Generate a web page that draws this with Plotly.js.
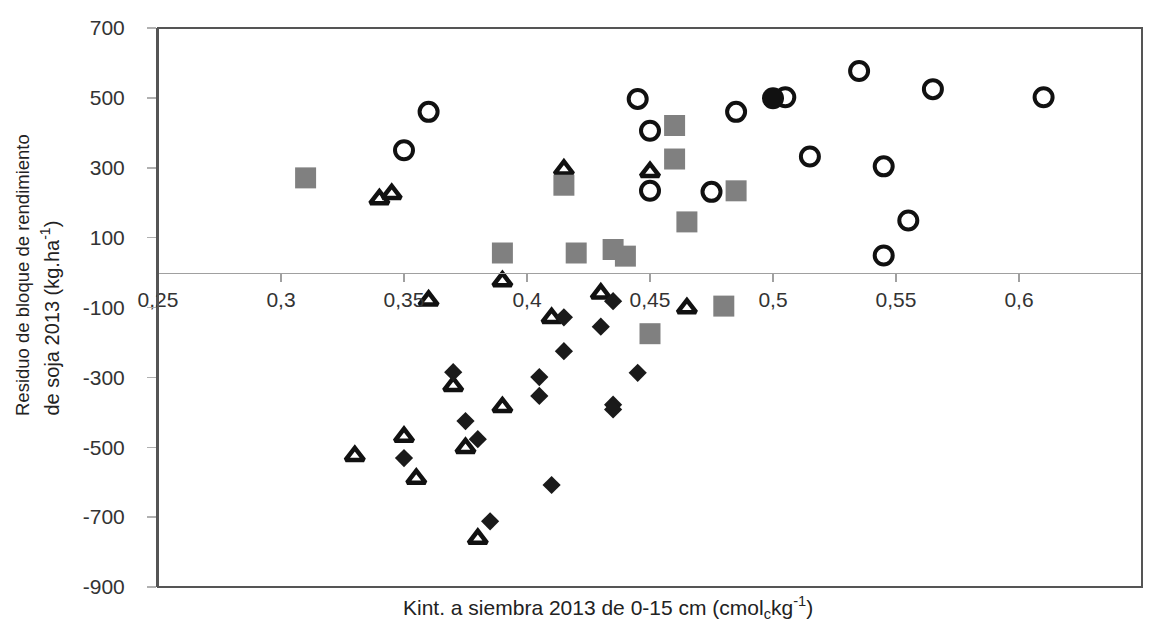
<!DOCTYPE html>
<html>
<head>
<meta charset="utf-8">
<script src="https://cdn.plot.ly/plotly-3.0.1.min.js"></script>
<style>html,body{margin:0;padding:0;background:#fff;}#chart{width:1160px;height:623px;}</style>
</head>
<body>
<div id="chart"></div>
<script>
// Open circles
const circX = [0.35, 0.36, 0.445, 0.45, 0.45, 0.475, 0.485, 0.505, 0.515, 0.535, 0.545, 0.545, 0.555, 0.565, 0.61];
const circY = [350, 460, 497, 406, 234, 231, 460, 502, 332, 577, 304, 49, 149, 525, 502];
// Filled circle
const dotX = [0.5];
const dotY = [499];
// Open triangles
const triX = [0.33, 0.34, 0.345, 0.35, 0.355, 0.36, 0.37, 0.375, 0.38, 0.39, 0.39, 0.41, 0.415, 0.43, 0.45, 0.465];
const triY = [-525, 210, 225, -470, -590, -80, -325, -502, -762, -25, -385, -130, 295, -60, 288, -102];
// Filled diamonds
const diaX = [0.35, 0.37, 0.375, 0.38, 0.385, 0.405, 0.405, 0.41, 0.415, 0.415, 0.43, 0.435, 0.435, 0.435, 0.445];
const diaY = [-531, -285, -425, -477, -712, -299, -353, -608, -128, -225, -155, -82, -378, -392, -287];
// Gray squares
const sqX = [0.31, 0.39, 0.415, 0.42, 0.435, 0.44, 0.45, 0.46, 0.46, 0.465, 0.48, 0.485];
const sqY = [271, 56, 250, 56, 66, 47, -175, 421, 325, 145, -96, 234];

const xTicks = [0.25, 0.3, 0.35, 0.4, 0.45, 0.5, 0.55, 0.6, 0.65];
const xTickText = ['0,25', '0,3', '0,35', '0,4', '0,45', '0,5', '0,55', '0,6', '0,65'];
const yTicks = [-900, -700, -500, -300, -100, 100, 300, 500, 700];
const yTickText = ['-900', '-700', '-500', '-300', '-100', '100', '300', '500', '700'];
const xRange = [0.25, 0.65];
const yRange = [-900, 700];

const FONT = "'Liberation Sans', Arial, sans-serif";

const traces = [
  {x: circX, y: circY, type: 'scatter', mode: 'markers',
   marker: {symbol: 'circle-open', size: 18, color: '#111', line: {width: 4, color: '#111'}}},
  {x: dotX, y: dotY, type: 'scatter', mode: 'markers',
   marker: {symbol: 'circle', size: 22, color: '#111', line: {width: 0}}},
  {x: triX, y: triY, type: 'scatter', mode: 'markers',
   marker: {symbol: 'triangle-up', size: 16, color: '#fff', line: {width: 4.5, color: '#111'}}},
  {x: diaX, y: diaY, type: 'scatter', mode: 'markers',
   marker: {symbol: 'diamond', size: 14, color: '#1a1a1a', line: {width: 0}}},
  {x: sqX, y: sqY, type: 'scatter', mode: 'markers',
   marker: {symbol: 'square', size: 21, color: '#808080', line: {width: 0}}}
];

const layout = {
  width: 1160, height: 623,
  margin: {l: 158, r: 18, t: 28, b: 36},
  paper_bgcolor: '#fff', plot_bgcolor: '#fff',
  showlegend: false,
  font: {family: FONT, color: '#333'},
  xaxis: {
    range: xRange, tickvals: xTicks, ticktext: xTickText,
    anchor: 'free', position: (0 - yRange[0]) / (yRange[1] - yRange[0]),
    showline: true, linecolor: '#a0a0a0', linewidth: 1.5,
    ticks: 'outside', ticklen: 8, tickcolor: '#a0a0a0', tickwidth: 1.5,
    showgrid: false, zeroline: false,
    tickfont: {family: FONT, size: 21, color: '#333'}
  },
  yaxis: {
    range: yRange, tickvals: yTicks, ticktext: yTickText,
    showline: true, linecolor: '#555', linewidth: 2,
    ticks: 'outside', ticklen: 9, tickcolor: '#b0b0b0', tickwidth: 1.5,
    ticklabelstandoff: 18,
    showgrid: false, zeroline: false,
    tickfont: {family: FONT, size: 21, color: '#333'}
  },
  shapes: [
    {type: 'rect', xref: 'paper', yref: 'paper', x0: 0, x1: 1, y0: 0, y1: 1,
     line: {color: '#555', width: 2}, fillcolor: 'rgba(0,0,0,0)', layer: 'above'}
  ],
  annotations: [
    {text: 'Kint. a siembra 2013 de 0-15 cm (cmol<sub>c</sub>kg<sup>-1</sup>)',
     xref: 'paper', yref: 'paper', x: 0.457, y: 0, yshift: -20,
     xanchor: 'center', yanchor: 'middle', showarrow: false,
     font: {family: FONT, size: 21, color: '#222'}},
    {text: 'Residuo de bloque de rendimiento',
     xref: 'paper', yref: 'paper', x: 0, xshift: -136, y: 0.3023,
     xanchor: 'center', yanchor: 'bottom', textangle: -90, showarrow: false,
     font: {family: FONT, size: 18.5, color: '#222'}},
    {text: 'de soja 2013 (kg.ha<sup>-1</sup>)',
     xref: 'paper', yref: 'paper', x: 0, xshift: -108, y: 0.3023,
     xanchor: 'center', yanchor: 'bottom', textangle: -90, showarrow: false,
     font: {family: FONT, size: 20, color: '#222'}}
  ]
};

Plotly.newPlot('chart', traces, layout, {displayModeBar: false, staticPlot: true});
</script>
</body>
</html>
